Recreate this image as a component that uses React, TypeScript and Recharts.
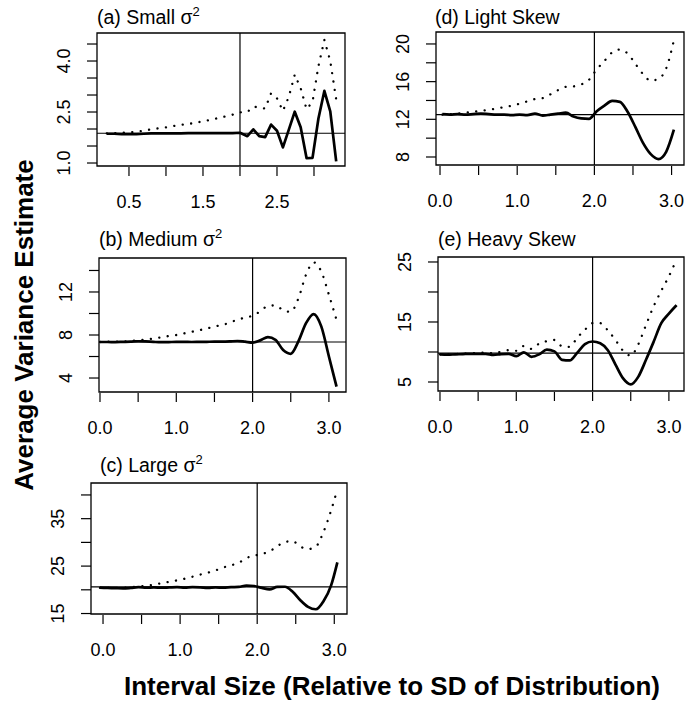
import React from 'react';
import { LineChart, Line, XAxis, YAxis, ReferenceLine, ReferenceArea } from 'recharts';

const FONT = "'Liberation Sans', Arial, Helvetica, sans-serif";

// ---------- Panel (a) Small sigma^2 ----------
const aX = [0.2, 0.3, 0.4, 0.5, 0.6, 0.7, 0.8, 0.9, 1.0, 1.1, 1.2, 1.3, 1.4, 1.5, 1.6, 1.7, 1.8, 1.9, 2.0,
  2.1, 2.18, 2.26, 2.34, 2.42, 2.5, 2.58, 2.66, 2.74, 2.82, 2.9, 2.98, 3.06, 3.14, 3.22, 3.3];
const aSolid = [1.86, 1.86, 1.85, 1.85, 1.85, 1.86, 1.87, 1.87, 1.87, 1.87, 1.87, 1.88, 1.88, 1.88, 1.88, 1.88, 1.88, 1.88, 1.89,
  1.79, 1.99, 1.79, 1.76, 2.13, 1.95, 1.46, 1.98, 2.51, 2.05, 1.14, 1.15, 2.31, 3.12, 2.52, 1.05];
const aDotted = [1.87, 1.88, 1.89, 1.9, 1.92, 1.95, 1.99, 2.02, 2.05, 2.09, 2.12, 2.15, 2.18, 2.23, 2.27, 2.32, 2.37, 2.42, 2.49,
  2.5, 2.66, 2.63, 2.6, 3.05, 2.9, 2.53, 2.95, 3.6, 3.2, 2.58, 2.8, 3.85, 4.62, 4.0, 2.87];
const aXTicks = [0.5, 1.0, 1.5, 2.0, 2.5, 3.0];
const aXLabels = [0.5, 1.5, 2.5];
const aYTicks = [1.0, 1.5, 2.0, 2.5, 3.0, 3.5, 4.0, 4.5];
const aYLabels = [1.0, 2.5, 4.0];
const aTrue = 1.875;

// ---------- Panel (d) Light Skew ----------
const dX = [0.03, 0.13, 0.23, 0.33, 0.43, 0.53, 0.63, 0.73, 0.83, 0.93, 1.03, 1.13, 1.23, 1.33, 1.43, 1.53,
  1.63, 1.73, 1.83, 1.93, 2.03, 2.13, 2.23, 2.33, 2.43, 2.53, 2.63, 2.73, 2.83, 2.93, 3.03];
const dSolid = [12.55, 12.5, 12.55, 12.5, 12.55, 12.6, 12.55, 12.5, 12.5, 12.45, 12.5, 12.45, 12.6, 12.4, 12.5, 12.6,
  12.7, 12.3, 12.1, 12.05, 12.85, 13.45, 13.95, 13.85, 12.8, 11.2, 9.5, 8.3, 7.78, 8.55, 10.9];
const dDotted = [12.5, 12.55, 12.6, 12.7, 12.8, 12.9, 13.0, 13.15, 13.3, 13.45, 13.65, 13.9, 14.15, 14.25, 14.65, 15.1,
  15.45, 15.5, 15.7, 16.2, 17.3, 18.2, 19.1, 19.4, 19.0, 17.9, 16.8, 16.1, 16.3, 17.4, 20.4];
const dYTicks = [8, 10, 12, 14, 16, 18, 20];
const dYLabels = [8, 12, 16, 20];
const dTrue = 12.5;

// ---------- Panel (b) Medium sigma^2 ----------
const bX = [0.0, 0.1, 0.2, 0.3, 0.4, 0.5, 0.6, 0.7, 0.8, 0.9, 1.0, 1.1, 1.2, 1.3, 1.4, 1.5, 1.6, 1.7, 1.8, 1.9,
  2.0, 2.1, 2.2, 2.3, 2.4, 2.5, 2.6, 2.7, 2.8, 2.9, 3.0, 3.1];
const bSolid = [7.35, 7.35, 7.34, 7.36, 7.38, 7.42, 7.4, 7.36, 7.33, 7.34, 7.36, 7.36, 7.35, 7.36, 7.37, 7.38, 7.38, 7.4, 7.44, 7.38,
  7.3, 7.5, 7.8, 7.55, 6.6, 6.25, 7.4, 9.1, 9.95, 8.8, 6.0, 3.2];
const bDotted = [7.35, 7.37, 7.38, 7.4, 7.45, 7.5, 7.58, 7.68, 7.78, 7.9, 8.0, 8.15, 8.3, 8.45, 8.6, 8.8, 8.93, 9.14, 9.43, 9.6,
  9.8, 10.2, 10.7, 10.75, 10.3, 10.15, 11.4, 13.6, 14.75, 13.9, 11.75, 9.4];
const bYTicks = [4, 6, 8, 10, 12, 14];
const bYLabels = [4, 8, 12];
const bTrue = 7.35;

// ---------- Panel (e) Heavy Skew ----------
const eX = bX;
const eSolid = [9.6, 9.55, 9.6, 9.65, 9.7, 9.7, 9.7, 9.5, 9.65, 9.7, 9.3, 9.95, 9.2, 9.6, 10.4, 10.1, 8.7, 8.6, 9.9, 11.3,
  11.75, 11.45, 10.3, 7.9, 5.6, 4.6, 5.9, 8.7, 11.7, 14.8, 16.4, 17.8];
const eDotted = [9.6, 9.6, 9.65, 9.7, 9.75, 9.85, 9.9, 9.8, 10.05, 10.3, 10.2, 11.0, 10.5, 11.4, 11.8, 12.0, 10.95, 10.85, 12.4, 13.7,
  14.8, 14.8, 13.6, 12.0, 10.2, 9.4, 11.3, 14.5, 17.6, 20.2, 22.6, 25.4];
const eYTicks = [5, 10, 15, 20, 25];
const eYLabels = [5, 15, 25];
const eTrue = 9.8;

// ---------- Panel (c) Large sigma^2 ----------
const cX = [-0.04, 0.06, 0.16, 0.26, 0.36, 0.46, 0.56, 0.66, 0.76, 0.86, 0.96, 1.06, 1.16, 1.26, 1.36, 1.46,
  1.56, 1.66, 1.76, 1.86, 1.96, 2.06, 2.16, 2.26, 2.36, 2.46, 2.56, 2.66, 2.76, 2.86, 2.96, 3.04];
const cSolid = [20.45, 20.4, 20.35, 20.3, 20.4, 20.55, 20.45, 20.5, 20.45, 20.5, 20.55, 20.45, 20.55, 20.5, 20.4, 20.5,
  20.45, 20.55, 20.6, 20.9, 20.8, 20.4, 20.1, 20.6, 20.65, 19.6, 17.8, 16.4, 15.9, 17.6, 21.0, 25.8];
const cDotted = [20.4, 20.4, 20.4, 20.45, 20.55, 20.7, 20.85, 21.1, 21.4, 21.7, 22.0, 22.35, 22.75, 23.2, 23.6, 24.1,
  24.7, 25.15, 25.7, 26.7, 27.2, 27.55, 28.1, 29.2, 30.1, 30.25, 29.1, 28.6, 29.1, 32.2, 36.8, 41.2];
const cYTicks = [15, 20, 25, 30, 35, 40];
const cYLabels = [15, 25, 35];
const cTrue = 20.6;

// shared x ticks for panels b-e
const stdXTicks = [0.0, 0.5, 1.0, 1.5, 2.0, 2.5, 3.0];
const stdXLabels = [0.0, 1.0, 2.0, 3.0];

type Spec = {
  key: string;
  title: string;
  sigma: boolean;
  titleX: number;
  titleY: number;
  box: { left: number; right: number; top: number; bottom: number };
  xDomain: [number, number];
  yDomain: [number, number];
  xs: number[];
  solid: number[];
  dotted: number[];
  xTicks: number[];
  xLabels: number[];
  yTicks: number[];
  yLabels: number[];
  yFixed: number;
  trueVal: number;
  curve: 'linear' | 'monotone';
};

const specs: Spec[] = [
  { key: 'a', title: '(a) Small ', sigma: true, titleX: 97, titleY: 24,
    box: { left: 97, right: 345, top: 33, bottom: 166 }, xDomain: [0.068, 3.419], yDomain: [0.912, 4.824],
    xs: aX, solid: aSolid, dotted: aDotted, xTicks: aXTicks, xLabels: aXLabels, yTicks: aYTicks, yLabels: aYLabels,
    yFixed: 1, trueVal: aTrue, curve: 'linear' },
  { key: 'd', title: '(d) Light Skew', sigma: false, titleX: 435, titleY: 24,
    box: { left: 436, right: 684, top: 32, bottom: 165 }, xDomain: [-0.052, 3.161], yDomain: [7.15, 21.27],
    xs: dX, solid: dSolid, dotted: dDotted, xTicks: stdXTicks, xLabels: stdXLabels, yTicks: dYTicks, yLabels: dYLabels,
    yFixed: 0, trueVal: dTrue, curve: 'monotone' },
  { key: 'b', title: '(b) Medium ', sigma: true, titleX: 99, titleY: 246,
    box: { left: 99, right: 346, top: 258, bottom: 392 }, xDomain: [-0.013, 3.224], yDomain: [2.7, 15.16],
    xs: bX, solid: bSolid, dotted: bDotted, xTicks: stdXTicks, xLabels: stdXLabels, yTicks: bYTicks, yLabels: bYLabels,
    yFixed: 0, trueVal: bTrue, curve: 'monotone' },
  { key: 'e', title: '(e) Heavy Skew', sigma: false, titleX: 438, titleY: 246,
    box: { left: 438, right: 684, top: 257, bottom: 391 }, xDomain: [-0.026, 3.198], yDomain: [3.5, 25.83],
    xs: eX, solid: eSolid, dotted: eDotted, xTicks: stdXTicks, xLabels: stdXLabels, yTicks: eYTicks, yLabels: eYLabels,
    yFixed: 0, trueVal: eTrue, curve: 'monotone' },
  { key: 'c', title: '(c) Large ', sigma: true, titleX: 100, titleY: 472,
    box: { left: 91, right: 347, top: 483, bottom: 614 }, xDomain: [-0.156, 3.165], yDomain: [14.9, 42.52],
    xs: cX, solid: cSolid, dotted: cDotted, xTicks: stdXTicks, xLabels: stdXLabels, yTicks: cYTicks, yLabels: cYLabels,
    yFixed: 0, trueVal: cTrue, curve: 'monotone' },
];

const has = (arr: number[], v: number) => arr.some((a) => Math.abs(a - v) < 1e-9);

function Panel({ spec }: { spec: Spec }) {
  const boxW = spec.box.right - spec.box.left;
  const boxH = spec.box.bottom - spec.box.top;
  const W = boxW + 60;
  const H = boxH + 60;
  const plotLeft = 50;
  const plotBottom = 10 + boxH;
  const rows = spec.xs.map((x, i) => ({ x, solid: spec.solid[i], dotted: spec.dotted[i] }));

  const xTick = (p: any) => {
    const v = p.payload.value;
    const x = p.payload.coordinate ?? p.x;
    return (
      <g>
        <line x1={x} x2={x} y1={plotBottom + 1} y2={plotBottom + 10} stroke="#000" strokeWidth={1.2} />
        {has(spec.xLabels, v) && (
          <text x={x} y={plotBottom + 42} textAnchor="middle" fontFamily={FONT} fontSize={18} fill="#000">
            {v.toFixed(1)}
          </text>
        )}
      </g>
    );
  };

  const yTick = (p: any) => {
    const v = p.payload.value;
    const y = p.payload.coordinate ?? p.y;
    const lx = plotLeft - 33;
    return (
      <g>
        <line x1={plotLeft - 10} x2={plotLeft} y1={y} y2={y} stroke="#000" strokeWidth={1.2} />
        {has(spec.yLabels, v) && (
          <text x={lx} y={y} dy="0.36em" textAnchor="middle" fontFamily={FONT} fontSize={18} fill="#000"
            transform={`rotate(-90, ${lx}, ${y})`}>
            {spec.yFixed ? v.toFixed(spec.yFixed) : String(v)}
          </text>
        )}
      </g>
    );
  };

  return (
    <div style={{ position: 'absolute', left: spec.box.left - 50, top: spec.box.top - 10, width: W, height: H }}>
      <LineChart width={W} height={H} data={rows} margin={{ top: 10, right: 10, left: 5, bottom: 5 }}>
        <XAxis dataKey="x" type="number" domain={spec.xDomain} allowDataOverflow ticks={spec.xTicks} interval={0}
          height={45} axisLine={false} tickLine={false} tick={xTick} />
        <YAxis type="number" domain={spec.yDomain} allowDataOverflow ticks={spec.yTicks} interval={0}
          width={45} axisLine={false} tickLine={false} tick={yTick} />
        <ReferenceArea x1={spec.xDomain[0]} x2={spec.xDomain[1]} y1={spec.yDomain[0]} y2={spec.yDomain[1]}
          fill="none" fillOpacity={0} stroke="#000" strokeWidth={1.3} ifOverflow="visible" />
        <ReferenceLine x={2} stroke="#000" strokeWidth={1.2} />
        <ReferenceLine y={spec.trueVal} stroke="#000" strokeWidth={1.2} />
        <Line dataKey="dotted" type={spec.curve} stroke="#000" strokeWidth={2.3} strokeDasharray="0.1 8.4"
          strokeLinecap="round" dot={false} activeDot={false} isAnimationActive={false} />
        <Line dataKey="solid" type={spec.curve} stroke="#000" strokeWidth={2.7} strokeLinejoin="round"
          dot={false} activeDot={false} isAnimationActive={false} />
      </LineChart>
    </div>
  );
}

export default function App() {
  return (
    <div style={{ position: 'absolute', left: 0, top: 0, width: 697, height: 702, background: '#fff', overflow: 'hidden' }}>
      {specs.map((s) => (
        <Panel key={s.key} spec={s} />
      ))}
      <svg width={697} height={702} style={{ position: 'absolute', left: 0, top: 0, pointerEvents: 'none' }}>
        {specs.map((s) => (
          <text key={s.key} x={s.titleX} y={s.titleY} fontFamily={FONT} fontSize={19.5} fill="#000">
            {s.title}
            {s.sigma && <tspan>σ</tspan>}
            {s.sigma && <tspan dy={-8} fontSize={13}>2</tspan>}
          </text>
        ))}
        <text x={24} y={325} dy="0.36em" textAnchor="middle" fontFamily={FONT} fontWeight="bold" fontSize={26}
          fill="#000" transform="rotate(-90, 24, 325)">
          Average Variance Estimate
        </text>
        <text x={392} y={695} textAnchor="middle" fontFamily={FONT} fontWeight="bold" fontSize={26} fill="#000">
          Interval Size (Relative to SD of Distribution)
        </text>
      </svg>
    </div>
  );
}
